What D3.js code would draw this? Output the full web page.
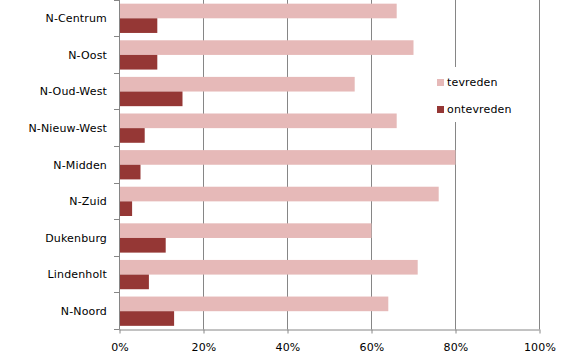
<!DOCTYPE html>
<html>
<head>
<meta charset="utf-8">
<script src="https://cdn.jsdelivr.net/npm/d3@7"></script>
<style>
  html, body { margin: 0; padding: 0; background: #fff; }
  svg { display: block; }
  text { font-family: "DejaVu Sans", Verdana, sans-serif; font-size: 11px; fill: #000; letter-spacing: 0.15px; }
</style>
</head>
<body>
<svg id="chart" width="567" height="357"></svg>
<script>
const categories = ["N-Centrum", "N-Oost", "N-Oud-West", "N-Nieuw-West", "N-Midden", "N-Zuid", "Dukenburg", "Lindenholt", "N-Noord"];
const tevreden   = [0.66, 0.70, 0.56, 0.66, 0.80, 0.76, 0.60, 0.71, 0.64];
const ontevreden = [0.09, 0.09, 0.15, 0.06, 0.05, 0.03, 0.11, 0.07, 0.13];
const seriesNames = ["tevreden", "ontevreden"];
const seriesColors = ["#E6B9B8", "#953735"];
const xTicks = [0, 0.2, 0.4, 0.6, 0.8, 1.0];

const svg = d3.select("#chart");
const gridColor = "#868686";

const x = d3.scaleLinear().domain([0, 1]).range([119.5, 539.5]);
const y = d3.scaleBand().domain(categories).range([0, 329.5]).padding(0);
const ySub = d3.scaleBand().domain(seriesNames).range([0, y.bandwidth()]).paddingInner(0).paddingOuter(0.25);

const data = categories.map((c, i) => ({ cat: c, values: [tevreden[i], ontevreden[i]] }));

// legend box area (white background interrupts gridlines)
const legendBox = { x0: 430, x1: 518, y0: 67, y1: 122 };

// gridlines
const gridG = svg.append("g");
xTicks.filter(t => t > 0).forEach(t => {
  const gx = Math.round(x(t) - 0.5) + 0.5;
  if (gx > legendBox.x0 && gx < legendBox.x1) {
    gridG.append("line").attr("x1", gx).attr("x2", gx).attr("y1", 0).attr("y2", legendBox.y0)
      .attr("stroke", gridColor).attr("stroke-width", 1);
    gridG.append("line").attr("x1", gx).attr("x2", gx).attr("y1", legendBox.y1).attr("y2", 329.5)
      .attr("stroke", gridColor).attr("stroke-width", 1);
  } else {
    gridG.append("line").attr("x1", gx).attr("x2", gx).attr("y1", 0).attr("y2", 329.5)
      .attr("stroke", gridColor).attr("stroke-width", 1);
  }
});

// bars
const groups = svg.append("g").selectAll("g").data(data).join("g")
  .attr("transform", d => `translate(0,${y(d.cat)})`);
groups.selectAll("rect").data(d => d.values.map((v, i) => ({ v, s: seriesNames[i], i })))
  .join("rect")
  .attr("x", x(0) + 0.5)
  .attr("y", d => ySub(d.s))
  .attr("width", d => x(d.v) - x(0) - 0.5)
  .attr("height", ySub.bandwidth())
  .attr("fill", d => seriesColors[d.i]);

// y axis line
svg.append("line").attr("x1", 119.5).attr("x2", 119.5).attr("y1", 0).attr("y2", 329.5)
  .attr("stroke", gridColor);
// y ticks at category boundaries
const boundaries = categories.map(c => y(c)).concat([y.range()[1]]);
boundaries.forEach(b => {
  const by = Math.round(b - 0.5) + 0.5;
  svg.append("line").attr("x1", 114).attr("x2", 119.5).attr("y1", by).attr("y2", by).attr("stroke", gridColor);
});
// y labels
svg.append("g").selectAll("text").data(categories).join("text")
  .attr("x", 107)
  .attr("y", d => y(d) + y.bandwidth() / 2)
  .attr("dy", "0.35em")
  .attr("text-anchor", "end")
  .text(d => d);

// x axis
const xAxis = d3.axisBottom(x).tickValues(xTicks).tickFormat(d3.format(".0%")).tickSize(4).tickPadding(10);
const xg = svg.append("g").attr("transform", "translate(0,329.5)").call(xAxis);
xg.select(".domain").attr("stroke", gridColor).attr("d", "M119.5,0.5H539.5");
xg.selectAll(".tick line").attr("stroke", gridColor);
xg.selectAll(".tick text").attr("fill", "#000").style("font-family", '"DejaVu Sans", Verdana, sans-serif').style("font-size", "11px");

// legend
const lg = svg.append("g");
const legendY = [82.5, 109.5];
seriesNames.forEach((s, i) => {
  lg.append("rect").attr("x", 437).attr("y", legendY[i] - 3.5).attr("width", 7).attr("height", 7).attr("fill", seriesColors[i]);
  lg.append("text").attr("x", 447).attr("y", legendY[i]).attr("dy", "0.35em").text(s);
});
</script>
</body>
</html>
